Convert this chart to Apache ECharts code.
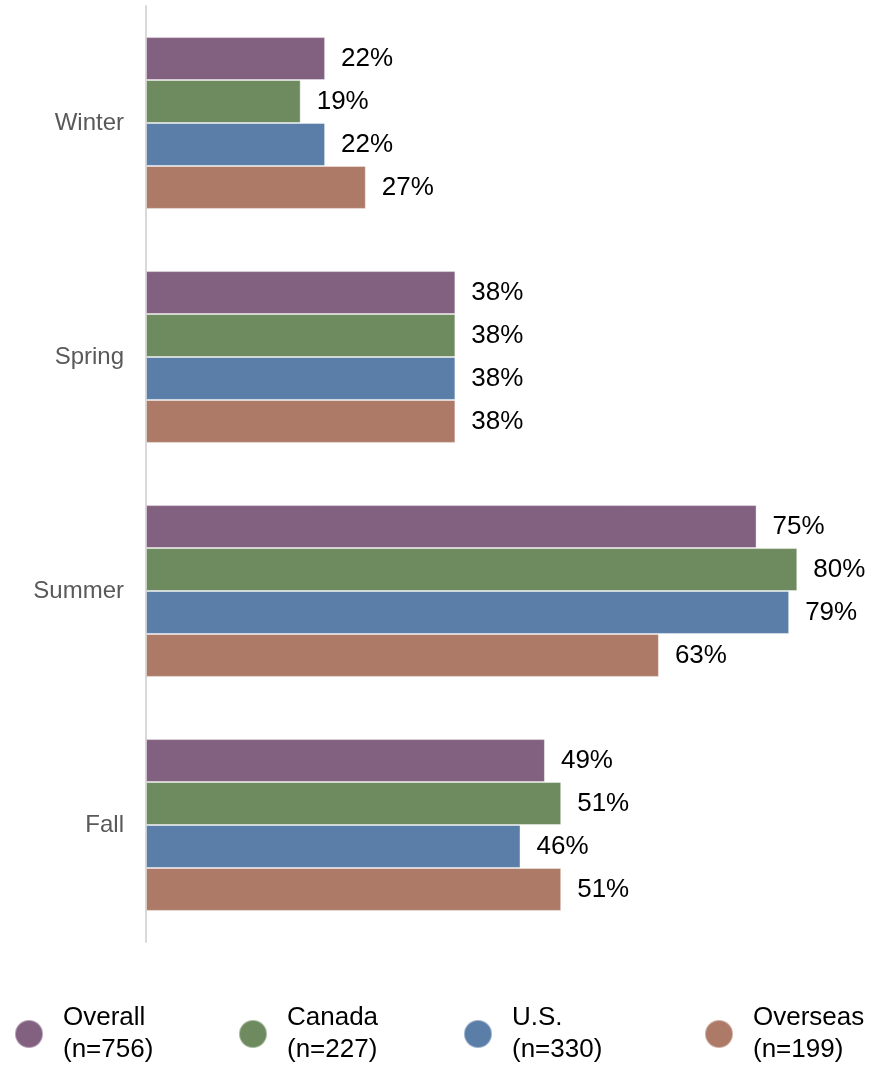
<!DOCTYPE html>
<html>
<head>
<meta charset="utf-8">
<script src="https://cdn.jsdelivr.net/npm/echarts@6/dist/echarts.min.js"></script>
<style>
  html, body { margin: 0; padding: 0; background: #ffffff; }
  #chart { width: 872px; height: 1065px; }
</style>
</head>
<body>
<div id="chart"></div>
<script>
// Seasons (top to bottom)
const seasons = ['Winter', 'Spring', 'Summer', 'Fall'];

// Share of respondents per season, by group (%)
const overall  = [22, 38, 75, 49];
const canada   = [19, 38, 80, 51];
const us       = [22, 38, 79, 46];
const overseas = [27, 38, 63, 51];

const groupNames = ['Overall', 'Canada', 'U.S.', 'Overseas'];
const groupN = [756, 227, 330, 199];
const groupColors = ['#826080', '#6e8b5f', '#5a7ea8', '#ad7a67'];
const groupValues = [overall, canada, us, overseas];

const FONT = '"Liberation Sans", Arial, Helvetica, sans-serif';

const chart = echarts.init(document.getElementById('chart'), null, { renderer: 'canvas' });

const series = groupNames.map((name, i) => ({
  name: name,
  type: 'bar',
  data: groupValues[i],
  barGap: '0%',
  barCategoryGap: '26.6%',
  itemStyle: {
    color: groupColors[i],
    borderColor: 'rgba(255,255,255,0.4)',
    borderWidth: 1
  },
  label: {
    show: true,
    position: 'right',
    distance: 16,
    formatter: '{c}%',
    color: '#000000',
    fontFamily: FONT,
    fontSize: 26
  },
  emphasis: { disabled: true },
  animation: false
}));

// One legend block per group so each can sit at its own spot
const legendLefts = [14, 238, 463, 704];
const legends = groupNames.map((name, i) => ({
  data: [name],
  left: legendLefts[i],
  top: 1002,
  padding: 0,
  orient: 'horizontal',
  icon: 'circle',
  itemWidth: 28,
  itemHeight: 28,
  selectedMode: false,
  formatter: n => n + '\n(n=' + groupN[i] + ')',
  textStyle: {
    color: '#000000',
    fontFamily: FONT,
    fontSize: 26,
    lineHeight: 32,
    padding: [0, 0, 0, 15]
  }
}));

chart.setOption({
  animation: false,
  color: groupColors,
  legend: legends,
  grid: {
    left: 146,
    right: 34,
    top: 6,
    bottom: 123,
    containLabel: false
  },
  xAxis: {
    type: 'value',
    min: 0,
    max: 85,
    show: false
  },
  yAxis: {
    type: 'category',
    data: seasons,
    inverse: true,
    axisLine: { show: true, lineStyle: { color: '#d9d9d9', width: 2 } },
    axisTick: { show: false },
    axisLabel: {
      margin: 22,
      color: '#595959',
      fontFamily: FONT,
      fontSize: 24
    },
    splitLine: { show: false }
  },
  series: series
});
</script>
</body>
</html>
